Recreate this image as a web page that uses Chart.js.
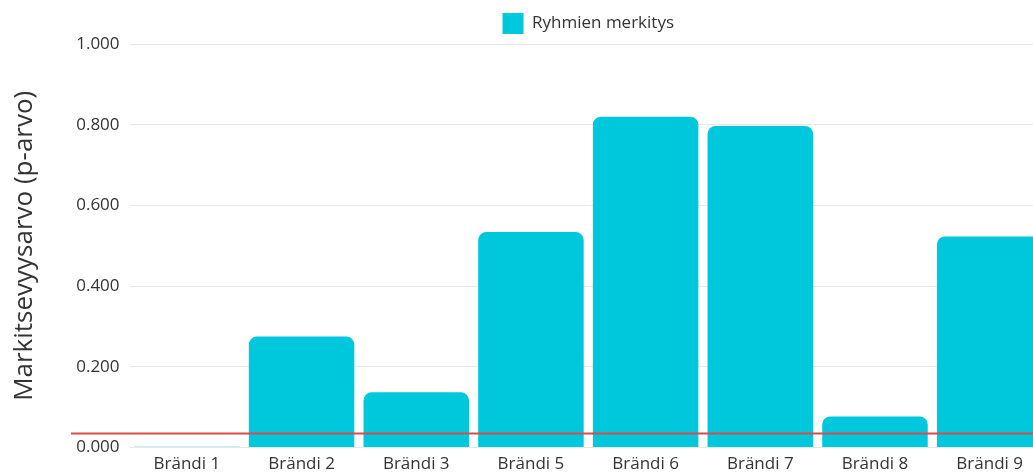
<!DOCTYPE html>
<html>
<head>
<meta charset="utf-8">
<script src="https://cdn.jsdelivr.net/npm/chart.js@4.4.1/dist/chart.umd.min.js"></script>
<style>
html,body{margin:0;padding:0;background:#fff;overflow:hidden;}
#wrap{width:1050px;height:472px;position:relative;}
</style>
</head>
<body>
<div id="wrap"><canvas id="c"></canvas></div>
<script>
const categories = ["Brändi 1","Brändi 2","Brändi 3","Brändi 5","Brändi 6","Brändi 7","Brändi 8","Brändi 9"];
const pValues = [0.002, 0.275, 0.137, 0.534, 0.820, 0.797, 0.077, 0.523];
const seriesName = "Ryhmien merkitys";
const thresholdValue = 0.035;
const yTicks = [0, 0.2, 0.4, 0.6, 0.8, 1.0];

const thresholdLine = {
  id: 'thresholdLine',
  afterDatasetsDraw(chart) {
    const y = chart.scales.y.getPixelForValue(thresholdValue);
    const ctx = chart.ctx;
    ctx.save();
    ctx.strokeStyle = '#dc4b4b';
    ctx.lineWidth = 2;
    ctx.beginPath();
    ctx.moveTo(71, y);
    ctx.lineTo(chart.width, y);
    ctx.stroke();
    ctx.restore();
  }
};

new Chart(document.getElementById('c'), {
  type: 'bar',
  data: {
    labels: categories,
    datasets: [{
      label: seriesName,
      data: pValues,
      backgroundColor: '#00c8dc',
      borderRadius: 8,
      borderSkipped: 'start',
      barPercentage: 0.92,
      categoryPercentage: 1.0
    }]
  },
  options: {
    responsive: true,
    maintainAspectRatio: false,
    animation: false,
    layout: { padding: { left: 0, right: 3, top: 0, bottom: 0 } },
    plugins: {
      legend: {
        position: 'top',
        fullSize: false,
        labels: {
          font: { family: 'Open Sans', size: 17 },
          color: '#333',
          boxWidth: 21,
          boxHeight: 21,
          padding: 13
        }
      },
      tooltip: { enabled: false }
    },
    scales: {
      x: {
        grid: { display: false },
        border: { display: false },
        ticks: { font: { family: 'Open Sans', size: 17 }, color: '#333', padding: -2 }
      },
      y: {
        min: 0,
        max: 1,
        afterBuildTicks(axis) { axis.ticks = yTicks.map(v => ({ value: v })); },
        grid: { color: '#e6e6e6', drawTicks: false },
        border: { display: false },
        ticks: {
          font: { family: 'Open Sans', size: 17 },
          color: '#333',
          padding: 10,
          callback: v => Number(v).toFixed(3)
        },
        title: {
          display: true,
          text: 'Markitsevyysarvo (p-arvo)',
          font: { family: 'Open Sans', size: 26 },
          color: '#333',
          padding: { top: 9, bottom: 26 }
        }
      }
    }
  },
  plugins: [thresholdLine]
});
</script>
</body>
</html>
